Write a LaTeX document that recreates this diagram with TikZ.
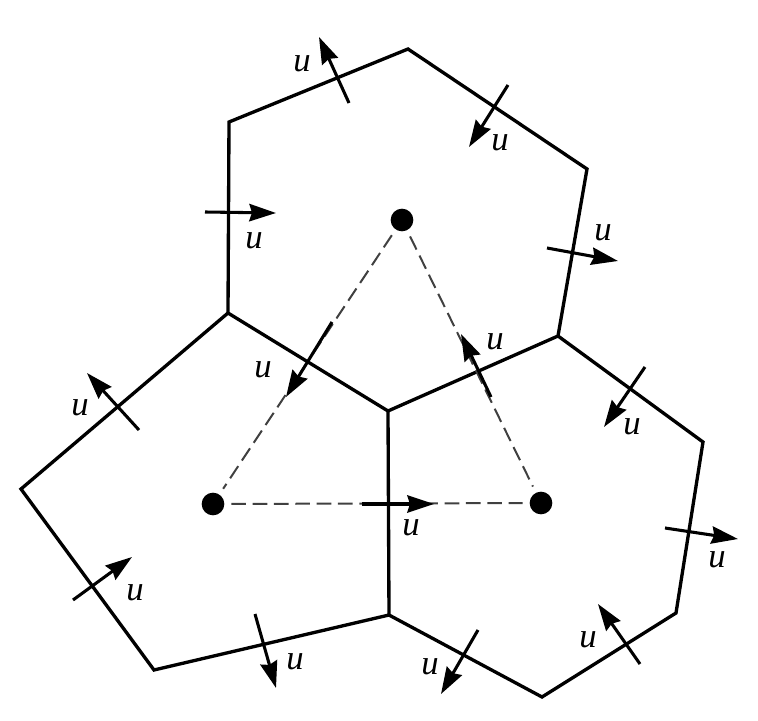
\documentclass[tikz,border=0pt]{standalone}
\usepackage{fontspec}
\setmainfont{Liberation Serif}
\usetikzlibrary{arrows.meta}
\begin{document}
\begin{tikzpicture}[x=0.75pt,y=-0.75pt,
  edge/.style={line width=2.5pt,line join=miter},
  flux/.style={line width=2.3pt,-{Stealth[length=20pt,width=13pt,inset=2pt]}},
  link/.style={line width=1.5pt,draw=black!75,dash pattern=on 11pt off 5pt,shorten >=5pt,shorten <=5pt},
  site/.style={circle,fill=black,inner sep=0pt,minimum size=17pt},
  lab/.style={font=\fontsize{26}{28}\selectfont\itshape,inner sep=0pt}]
\useasboundingbox (0,0) rectangle (758,721);
% vertices
\coordinate (a1) at (229,122);
\coordinate (a2) at (408,49);
\coordinate (a3) at (587,169);
\coordinate (c)  at (558,336);
\coordinate (o)  at (388,411);
\coordinate (l)  at (228,313);
\coordinate (b1) at (21,489);
\coordinate (b2) at (154,670);
\coordinate (m)  at (389,615);
\coordinate (r1) at (703,442);
\coordinate (r2) at (676,613);
\coordinate (r3) at (542,697);
% cells
\draw[edge] (l) -- (a1) -- (a2) -- (a3) -- (c) -- (o) -- cycle;
\draw[edge] (l) -- (b1) -- (b2) -- (m) -- (o);
\draw[edge] (c) -- (r1) -- (r2) -- (r3) -- (m);
% sites
\node[site] (p) at (402,220) {};
\node[site] (q) at (213,504) {};
\node[site] (s) at (541,503) {};
\draw[link] (p) -- (q);
\draw[link] (p) -- (s);
\draw[link] (q) -- (s);
% arrow ends
\coordinate (t1) at (349,103);  \coordinate (h1) at (319,37);
\coordinate (t2) at (508,85);   \coordinate (h2) at (469,147);
\coordinate (t3) at (205,212);  \coordinate (h3) at (276,213);
\coordinate (t4) at (547,248);  \coordinate (h4) at (618,261);
\coordinate (t5) at (139,430);  \coordinate (h5) at (87,373);
\coordinate (t6) at (73,600);   \coordinate (h6) at (132,557);
\coordinate (t7) at (255,614);  \coordinate (h7) at (276,688);
\coordinate (t8) at (645,367);  \coordinate (h8) at (604,427);
\coordinate (t9) at (665,528);  \coordinate (h9) at (738,539);
\coordinate (t10) at (640,664); \coordinate (h10) at (598,604);
\coordinate (t11) at (478,630); \coordinate (h11) at (441,694);
\coordinate (t12) at (332,322); \coordinate (h12) at (286,397);
\coordinate (t13) at (491,397); \coordinate (h13) at (461,334);
\coordinate (t14) at (362,504); \coordinate (h14) at (434,504);
\foreach \i in {1,...,14} {\draw[flux] (t\i) -- (h\i);}
% labels
\node[lab] (u1) at (302,64) {u};
\node[lab] (u2) at (500,143) {u};
\node[lab] (u3) at (254,241) {u};
\node[lab] (u4) at (603,233) {u};
\node[lab] (u5) at (80,408) {u};
\node[lab] (u6) at (135,593) {u};
\node[lab] (u7) at (295,662) {u};
\node[lab] (u8) at (632,427) {u};
\node[lab] (u9) at (717,560) {u};
\node[lab] (u10) at (588,640) {u};
\node[lab] (u11) at (430,667) {u};
\node[lab] (u12) at (263,370) {u};
\node[lab] (u13) at (495,342) {u};
\node[lab] (u14) at (411,528) {u};
\end{tikzpicture}
\end{document}
